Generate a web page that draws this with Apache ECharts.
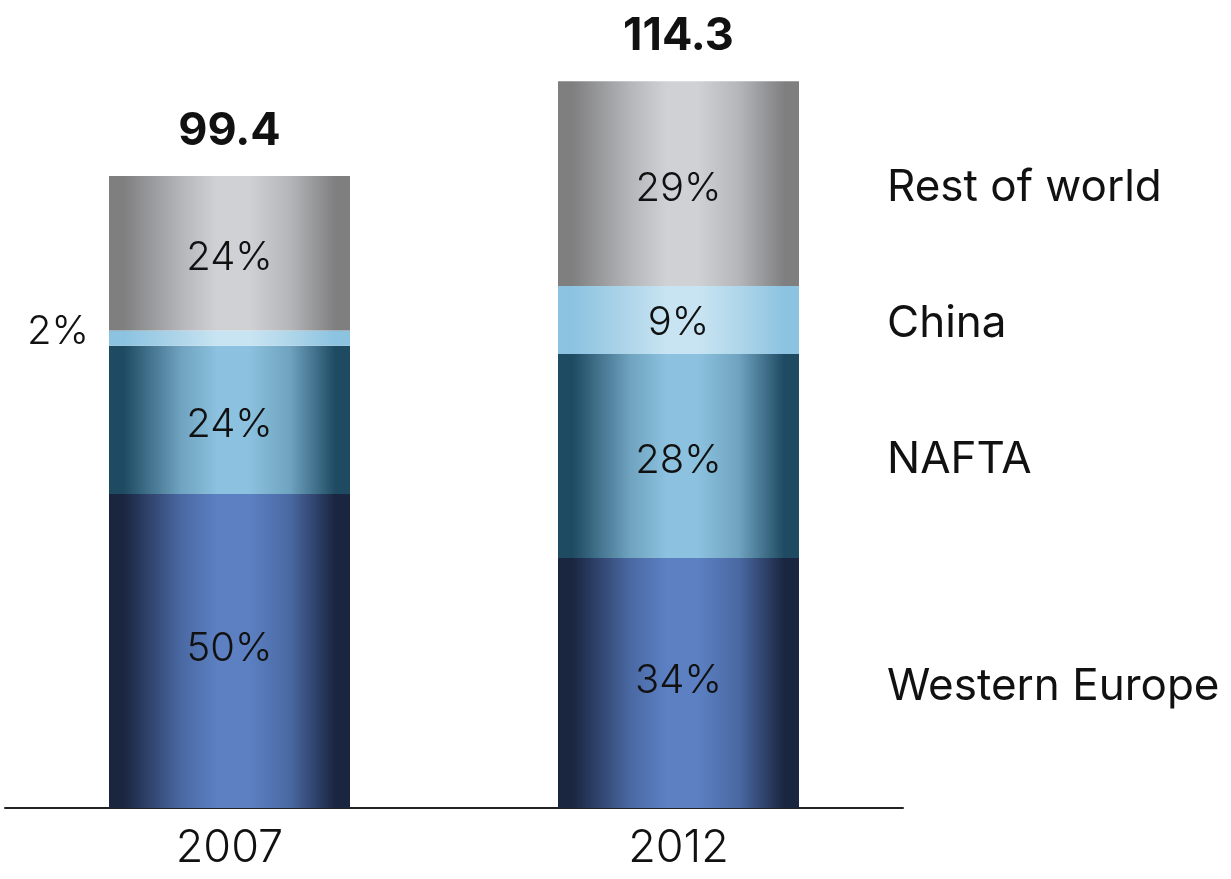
<!DOCTYPE html>
<html>
<head>
<meta charset="utf-8">
<script src="https://cdn.jsdelivr.net/npm/echarts@6/dist/echarts.min.js"></script>
<style>
html,body{margin:0;padding:0;background:#fff;}
#chart{width:1231px;height:879px;}
</style>
</head>
<body>
<div id="chart"></div>
<script>
const categories = ['2007', '2012'];
const seriesNames = ['Western Europe', 'NAFTA', 'China', 'Rest of world'];
const westernEurope = [49.4, 39.3];
const nafta = [23.3, 32.1];
const china = [2.4, 10.7];
const restOfWorld = [24.3, 32.2];
const totals = [99.4, 114.3];
const westernEuropeShare = ['50%', '34%'];
const naftaShare = ['24%', '28%'];
const chinaShare = ['2%', '9%'];
const restOfWorldShare = ['24%', '29%'];

const FONT = 'Inter, Roboto, "Liberation Sans", sans-serif';

function grad(edge, mid, light) {
  return new echarts.graphic.LinearGradient(0, 0, 1, 0, [
    {offset: 0, color: edge},
    {offset: 0.06, color: edge},
    {offset: 0.3, color: mid},
    {offset: 0.45, color: light},
    {offset: 0.58, color: light},
    {offset: 0.75, color: mid},
    {offset: 0.94, color: edge},
    {offset: 1, color: edge}
  ]);
}

const fills = [
  grad('#1a2540', '#4a69a3', '#5c80c2'),
  grad('#1e4a62', '#6fa3c0', '#8cc2df'),
  grad('#8cc3e1', '#b0d6ea', '#c8e4f2'),
  grad('#7f7f80', '#b5b6ba', '#d0d1d5')
];

const valueSets = [westernEurope, nafta, china, restOfWorld];
const shareSets = [westernEuropeShare, naftaShare, chinaShare, restOfWorldShare];
const insideOffsets = [[0, -2], [0, 5], [0, 3], [0, 5]];

const series = [];
valueSets.forEach((vals, si) => {
  series.push({
    name: seriesNames[si],
    type: 'bar',
    stack: 'main',
    barWidth: 241,
    barGap: '-100%',
    silent: true,
    itemStyle: {color: fills[si]},
    data: vals.map((v, i) => {
      const small = v < 5;
      return {
        value: v,
        label: {
          show: true,
          position: small ? 'left' : 'inside',
          distance: 20,
          offset: small ? [0, -6] : insideOffsets[si],
          formatter: shareSets[si][i],
          color: '#111',
          fontFamily: FONT,
          fontWeight: 300,
          fontSize: 40
        }
      };
    })
  });
});

valueSets.forEach((vals, si) => {
  series.push({
    name: seriesNames[si] + ' name',
    type: 'bar',
    stack: 'names',
    barWidth: 241,
    barGap: '-100%',
    silent: true,
    itemStyle: {color: 'rgba(0,0,0,0)'},
    data: vals.map((v, i) => ({
      value: v,
      label: {
        show: i === categories.length - 1,
        position: 'right',
        distance: 88,
        offset: [0, 4],
        formatter: seriesNames[si],
        color: '#111',
        fontFamily: FONT,
        fontWeight: 400,
        fontSize: 44
      }
    }))
  });
});

series.push({
  name: 'Total',
  type: 'bar',
  stack: 'total',
  barWidth: 241,
  barGap: '-100%',
  silent: true,
  itemStyle: {color: 'rgba(0,0,0,0)'},
  label: {
    show: true,
    position: 'top',
    distance: 22,
    formatter: p => totals[p.dataIndex].toFixed(1),
    color: '#111',
    fontFamily: FONT,
    fontWeight: 700,
    fontSize: 45
  },
  data: totals
});

const chart = echarts.init(document.getElementById('chart'), null, {renderer: 'canvas'});
chart.setOption({
  animation: false,
  backgroundColor: '#fff',
  grid: {left: 5, top: 45, width: 898, height: 763},
  xAxis: {
    type: 'category',
    data: categories,
    axisLine: {show: true, lineStyle: {color: '#222', width: 2}},
    axisTick: {show: false},
    axisLabel: {
      color: '#111',
      fontFamily: FONT,
      fontWeight: 300,
      fontSize: 45,
      margin: 18
    }
  },
  yAxis: {
    type: 'value',
    min: 0,
    max: 120,
    show: false,
    splitLine: {show: false}
  },
  series: series
});
</script>
</body>
</html>
